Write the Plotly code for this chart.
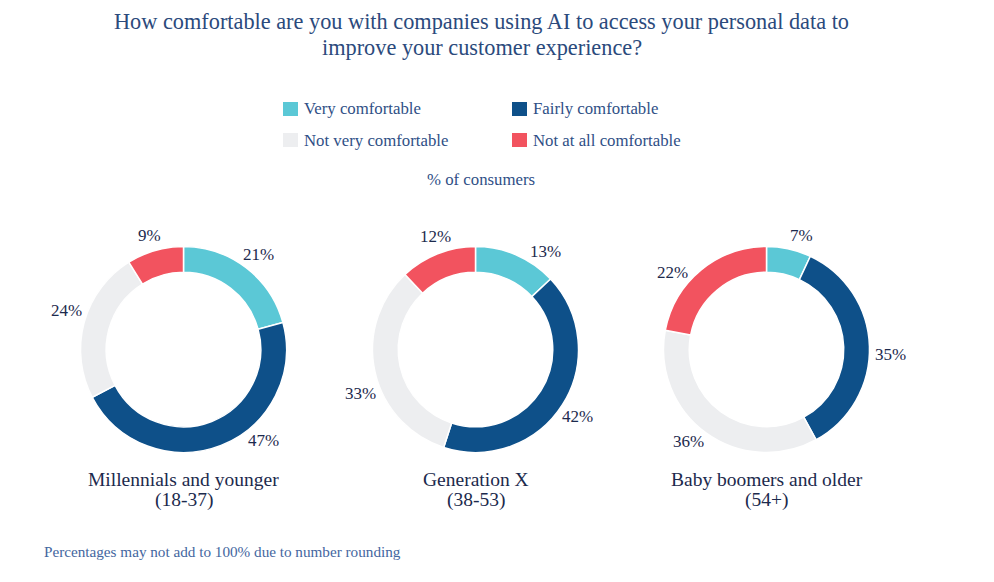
import math
import plotly.graph_objects as go

# ---- data ----
categories = ["Very comfortable", "Fairly comfortable", "Not very comfortable", "Not at all comfortable"]
group_names = ["Millennials and younger", "Generation X", "Baby boomers and older"]
group_ages = ["(18-37)", "(38-53)", "(54+)"]
millennials = [21, 47, 24, 9]
gen_x = [13, 42, 33, 12]
boomers = [7, 35, 36, 22]
series = [millennials, gen_x, boomers]

title_lines = ["How comfortable are you with companies using AI to access your personal data to",
               "improve your customer experience?"]
subtitle_text = "% of consumers"
footer_text = "Percentages may not add to 100% due to number rounding"

# ---- style / layout ----
VW, VH = 994, 582          # browser window
OFF = 8                    # default body margin of the page
W, H = VW - 2 * OFF, VH - 2 * OFF
colors = ["#5bc8d6", "#0e5089", "#edeef0", "#f2535f"]
FONT = "Liberation Serif"
centers = [(183.5, 349.5), (475.5, 349.5), (766.5, 349.5)]
radius = 103
label_rx, label_ry = 124, 119
# small angular nudges (degrees) for labels, to keep them clear of other text
label_shift = {(0, 1): -19, (0, 2): 4, (1, 0): 11, (1, 1): 2, (1, 2): -9, (1, 3): 3,
               (2, 0): 4, (2, 1): 4, (2, 2): 3, (2, 3): -10}
text_dark = "#1c2a4d"
blue_text = "#2f4f86"


def fx(X):
    return (X - OFF) / W


def fy(Y):
    return 1 - (Y - OFF) / H


fig = go.Figure()
annotations = []
for gi, (vals, name, age, (cx, cy)) in enumerate(zip(series, group_names, group_ages, centers)):
    fig.add_trace(go.Pie(
        labels=categories, values=vals, hole=0.75, sort=False,
        direction="clockwise", rotation=0,
        marker=dict(colors=colors, line=dict(color="white", width=1.5)),
        textinfo="none", hoverinfo="label+value", showlegend=False,
        domain=dict(x=[fx(cx - radius), fx(cx + radius)], y=[fy(cy + radius), fy(cy - radius)]),
    ))
    total = sum(vals)
    cum = 0
    for si, v in enumerate(vals):
        mid = (cum + v / 2) / total * 360 + label_shift.get((gi, si), 0)
        cum += v
        a = math.radians(mid)
        px = cx + label_rx * math.sin(a)
        py = cy - label_ry * math.cos(a)
        annotations.append(dict(
            x=fx(px), y=fy(py), xref="paper", yref="paper",
            text=f"{v}%", showarrow=False, xanchor="center", yanchor="middle",
            font=dict(family=FONT, size=17, color=text_dark)))
    annotations.append(dict(
        x=fx(cx), y=fy(479), xref="paper", yref="paper", text=name,
        showarrow=False, xanchor="center", yanchor="middle",
        font=dict(family=FONT, size=19.5, color=text_dark)))
    annotations.append(dict(
        x=fx(cx), y=fy(500), xref="paper", yref="paper", text=age,
        showarrow=False, xanchor="center", yanchor="middle",
        font=dict(family=FONT, size=19.5, color=text_dark)))

# title
for line, ty in zip(title_lines, [22, 47]):
    annotations.append(dict(x=fx(481.5), y=fy(ty), xref="paper", yref="paper",
                            text=line, showarrow=False, xanchor="center", yanchor="middle",
                            font=dict(family=FONT, size=22.3, color="#2b4a7c")))
annotations.append(dict(x=fx(481), y=fy(180), xref="paper", yref="paper",
                        text=subtitle_text, showarrow=False, xanchor="center", yanchor="middle",
                        font=dict(family=FONT, size=16.8, color=blue_text)))
annotations.append(dict(x=fx(42), y=fy(551), xref="paper", yref="paper",
                        text=footer_text, showarrow=False, xanchor="left", yanchor="middle",
                        font=dict(family=FONT, size=15.2, color="#4466a0")))

# legend (manual)
shapes = []
leg_pos = [(283, 109), (512, 109), (283, 140), (512, 140)]
for cat, col, (lx, ly) in zip(categories, colors, leg_pos):
    shapes.append(dict(type="rect", xref="paper", yref="paper",
                       x0=fx(lx), x1=fx(lx + 15), y0=fy(ly + 7), y1=fy(ly - 7),
                       fillcolor=col, line=dict(width=0)))
    annotations.append(dict(x=fx(lx + 19), y=fy(ly), xref="paper", yref="paper",
                            text=cat, showarrow=False, xanchor="left", yanchor="middle",
                            font=dict(family=FONT, size=16.8, color=blue_text)))

fig.update_layout(
    width=W, height=H, margin=dict(l=0, r=0, t=0, b=0),
    paper_bgcolor="white", plot_bgcolor="white",
    annotations=annotations, shapes=shapes, showlegend=False,
)
fig.write_html("out.html")
